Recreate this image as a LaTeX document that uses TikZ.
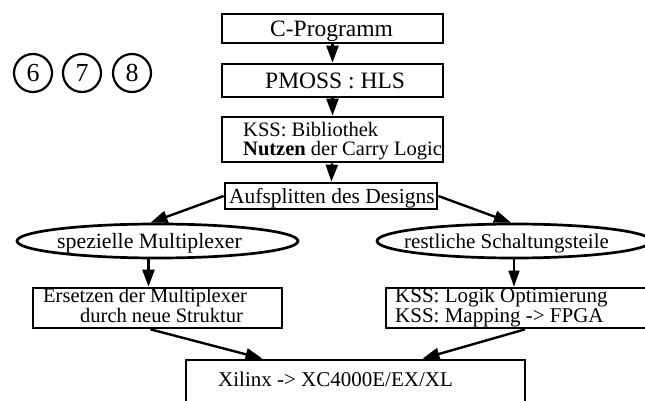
\documentclass[tikz,border=0pt]{standalone}
\usepackage{fontspec}
\setmainfont{Liberation Serif}
\usetikzlibrary{shapes.geometric,arrows.meta}
\begin{document}
\begin{tikzpicture}[x=1pt,y=-1pt,
  box/.style={draw,line width=2.7pt,rectangle,inner sep=0pt},
  oval/.style={draw,line width=2.7pt,ellipse,inner sep=0pt},
  txt/.style={anchor=base west,inner sep=0pt,font=\fontsize{21}{21}\selectfont},
  multitxt/.style={anchor=base west,inner sep=0pt,align=left},
  bigtxt/.style={txt,font=\fontsize{23.5}{23.5}\selectfont},
  arr/.style={line width=2.4pt,-{Triangle[length=17pt,width=12pt]}},
  thinarr/.style={line width=1.2pt,-{Triangle[length=16pt,width=11pt]}},
  num/.style={draw,line width=2.2pt,circle,minimum size=38pt,inner sep=0pt,font=\fontsize{26}{26}\selectfont}]
\useasboundingbox (0,0) rectangle (645,401);
% circled numbers
\node[num] (n6) at (33,73) {6};
\node[num] (n7) at (82,73) {7};
\node[num] (n8) at (132,73) {8};
% main column boxes
\node[box,minimum width=221pt,minimum height=29pt] (cprog) at (332.5,28.5) {};
\node[box,minimum width=221pt,minimum height=33pt] (pmoss) at (332.5,80.5) {};
\node[box,minimum width=221pt,minimum height=45pt] (kss) at (332.5,139.5) {};
\node[box,minimum width=212pt,minimum height=26pt] (split) at (331,196) {};
% branch shapes
\node[oval,minimum width=281pt,minimum height=34pt] (ellL) at (157.5,241) {};
\node[oval,minimum width=274pt,minimum height=34pt] (ellR) at (514,241) {};
\node[box,minimum width=249pt,minimum height=40pt] (ers) at (157.5,308) {};
\node[box,minimum width=264pt,minimum height=40pt] (kssR) at (518,308) {};
\node[box,minimum width=339pt,minimum height=52pt] (xil) at (355.5,386) {};
% texts
\node[bigtxt] (tcprog) at (270,37) {C-Programm};
\node[bigtxt] (tpmoss) at (265,89) {PMOSS : HLS};
\node[multitxt,font=\fontsize{20.5}{19}\selectfont] (tkss) at (243,156) {KSS: Bibliothek\\\textbf{Nutzen} der Carry Logic};
\node[txt,font=\fontsize{21.5}{21.5}\selectfont] (tsplit) at (229,203) {Aufsplitten des Designs};
\node[txt,font=\fontsize{21.8}{21.8}\selectfont] (tellL) at (57,248) {spezielle Multiplexer};
\node[txt] (tellR) at (404,248) {restliche Schaltungsteile};
\node[multitxt,font=\fontsize{20.5}{18}\selectfont] (ters) at (43,322) {Ersetzen der Multiplexer\\\hspace*{37pt}durch neue Struktur};
\node[multitxt,font=\fontsize{21}{17}\selectfont] (tkssR) at (395,322) {KSS: Logik Optimierung\\KSS: Mapping -> FPGA};
\node[txt] (txil) at (218,386) {Xilinx -> XC4000E/EX/XL};
% connectors
\draw[arr] (cprog) -- (pmoss);
\draw[arr] (pmoss) -- (kss);
\draw[arr] (kss) -- (split);
\draw[arr] (split.west) -- ([xshift=-7pt]ellL.north);
\draw[arr] (split.east) -- ([xshift=-3pt]ellR.north);
\draw[arr] ([xshift=-9pt]ellL.south) -- ([xshift=-9pt]ellL.south |- ers.north);
\draw[thinarr] (ellR.south) -- (ellR.south |- kssR.north);
\draw[arr] ([xshift=-7pt]ers.south) -- ([xshift=-93pt]xil.north);
\draw[arr] ([xshift=7pt]kssR.south) -- ([xshift=67pt]xil.north);
\end{tikzpicture}
\end{document}
